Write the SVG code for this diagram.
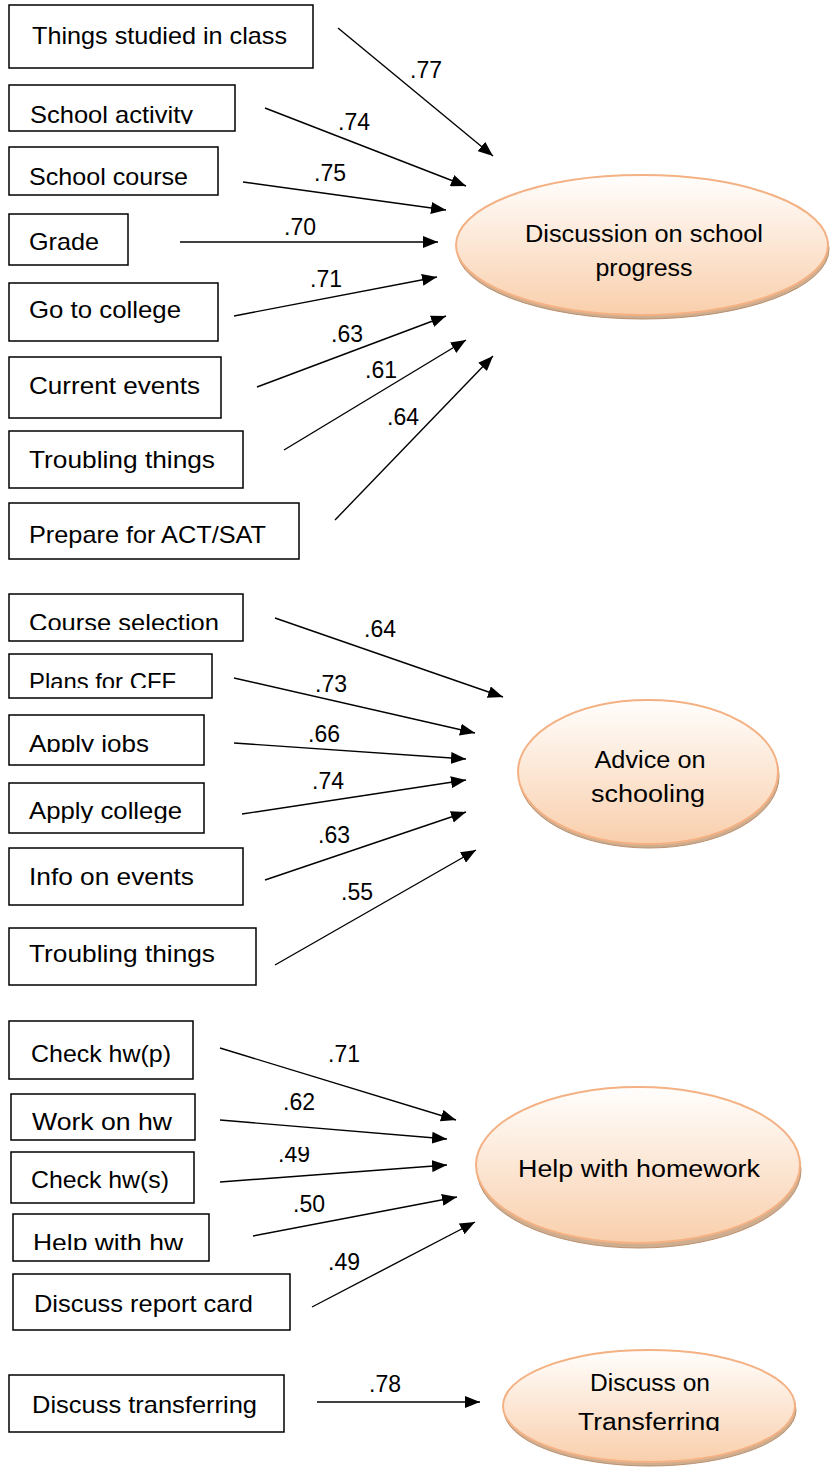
<svg xmlns="http://www.w3.org/2000/svg" width="830" height="1470" viewBox="0 0 830 1470">
<style>
.box{fill:#fff;stroke:#000;stroke-width:1.5}
.t{font-family:"Liberation Sans",Arial,sans-serif;font-size:24px;fill:#000}
.lbl{font-family:"Liberation Sans",Arial,sans-serif;font-size:23px;fill:#000;text-anchor:middle}
.et{font-family:"Liberation Sans",Arial,sans-serif;font-size:23px;fill:#000;text-anchor:middle}
.conn line{stroke:#000;stroke-width:1.4;marker-end:url(#arr)}
.ell{fill:url(#peach);stroke:#f4b183;stroke-width:2}
.shd{fill:#cfae90;stroke:#b98f6d;stroke-width:1}
</style>
<defs>
<marker id="arr" markerUnits="userSpaceOnUse" markerWidth="16" markerHeight="12" refX="15" refY="6" orient="auto">
<path d="M0,0 L15,6 L0,12 z" fill="#000"/>
</marker>
<linearGradient id="peach" x1="0" y1="0" x2="0" y2="1">
<stop offset="0" stop-color="#fffefd"/>
<stop offset="1" stop-color="#f9cfac"/>
</linearGradient>
<clipPath id="c1"><rect x="0" y="80" width="300" height="44"/></clipPath>
<clipPath id="c2"><rect x="0" y="590" width="300" height="40"/></clipPath>
<clipPath id="c3"><rect x="0" y="650" width="300" height="38"/></clipPath>
<clipPath id="c4"><rect x="0" y="710" width="300" height="42"/></clipPath>
<clipPath id="c5"><rect x="0" y="780" width="300" height="43"/></clipPath>
<clipPath id="c6"><rect x="0" y="1090" width="300" height="41"/></clipPath>
<clipPath id="c7"><rect x="0" y="1210" width="300" height="40"/></clipPath>
<clipPath id="c8"><rect x="500" y="1400" width="300" height="31"/></clipPath>
<clipPath id="c9"><rect x="250" y="1147" width="100" height="30"/></clipPath>
</defs>

<g id="connectors" class="conn">
<line x1="338" y1="28" x2="493" y2="156"/>
<line x1="265" y1="108" x2="466" y2="186"/>
<line x1="243" y1="182" x2="446" y2="210"/>
<line x1="180" y1="242" x2="438" y2="242"/>
<line x1="234" y1="316" x2="437" y2="277"/>
<line x1="257" y1="387" x2="446" y2="316"/>
<line x1="284" y1="450" x2="466" y2="340"/>
<line x1="335" y1="520" x2="493" y2="356"/>
<line x1="275" y1="618" x2="503" y2="697"/>
<line x1="234" y1="678" x2="475" y2="733"/>
<line x1="234" y1="743" x2="466" y2="759"/>
<line x1="242" y1="814" x2="466" y2="780"/>
<line x1="265" y1="880" x2="466" y2="812"/>
<line x1="275" y1="965" x2="476" y2="850"/>
<line x1="220" y1="1048" x2="456" y2="1120"/>
<line x1="220" y1="1120" x2="447" y2="1139"/>
<line x1="220" y1="1182" x2="447" y2="1165"/>
<line x1="253" y1="1236" x2="457" y2="1197"/>
<line x1="312" y1="1307" x2="475" y2="1222"/>
<line x1="317" y1="1402" x2="480" y2="1402"/>
</g>

<g id="labels">
<text class="lbl" x="426" y="78">.77</text>
<text class="lbl" x="354" y="130">.74</text>
<text class="lbl" x="330" y="181">.75</text>
<text class="lbl" x="300" y="235">.70</text>
<text class="lbl" x="326" y="287">.71</text>
<text class="lbl" x="347" y="342">.63</text>
<text class="lbl" x="381" y="378">.61</text>
<text class="lbl" x="403" y="425">.64</text>
<text class="lbl" x="380" y="637">.64</text>
<text class="lbl" x="331" y="692">.73</text>
<text class="lbl" x="324" y="742">.66</text>
<text class="lbl" x="328" y="789">.74</text>
<text class="lbl" x="334" y="843">.63</text>
<text class="lbl" x="357" y="900">.55</text>
<text class="lbl" x="344" y="1062">.71</text>
<text class="lbl" x="299" y="1110">.62</text>
<text class="lbl" x="294" y="1162" clip-path="url(#c9)">.49</text>
<text class="lbl" x="309" y="1212">.50</text>
<text class="lbl" x="344" y="1270">.49</text>
<text class="lbl" x="385" y="1392">.78</text>
</g>

<g id="n1"><rect class="box" x="9" y="5" width="304" height="63"/><text class="t" x="32" y="44" textLength="255" lengthAdjust="spacingAndGlyphs">Things studied in class</text></g>
<g id="n2"><rect class="box" x="9" y="85" width="226" height="46"/><text class="t" x="30" y="123" textLength="163" lengthAdjust="spacingAndGlyphs" clip-path="url(#c1)">School activity</text></g>
<g id="n3"><rect class="box" x="9" y="147" width="209" height="48"/><text class="t" x="29" y="185" textLength="159" lengthAdjust="spacingAndGlyphs">School course</text></g>
<g id="n4"><rect class="box" x="9" y="214" width="119" height="51"/><text class="t" x="29" y="250" textLength="70" lengthAdjust="spacingAndGlyphs">Grade</text></g>
<g id="n5"><rect class="box" x="9" y="283" width="209" height="58"/><text class="t" x="29" y="318" textLength="152" lengthAdjust="spacingAndGlyphs">Go to college</text></g>
<g id="n6"><rect class="box" x="9" y="357" width="212" height="61"/><text class="t" x="29" y="394" textLength="171" lengthAdjust="spacingAndGlyphs">Current events</text></g>
<g id="n7"><rect class="box" x="9" y="431" width="234" height="57"/><text class="t" x="29" y="468" textLength="186" lengthAdjust="spacingAndGlyphs">Troubling things</text></g>
<g id="n8"><rect class="box" x="9" y="503" width="290" height="56"/><text class="t" x="29" y="543" textLength="237" lengthAdjust="spacingAndGlyphs">Prepare for ACT/SAT</text></g>

<g id="n9"><rect class="box" x="9" y="594" width="234" height="47"/><text class="t" x="29" y="631" textLength="190" lengthAdjust="spacingAndGlyphs" clip-path="url(#c2)">Course selection</text></g>
<g id="n10"><rect class="box" x="9" y="654" width="203" height="44"/><text class="t" x="29" y="690" textLength="147" lengthAdjust="spacingAndGlyphs" clip-path="url(#c3)">Plans for CFF</text></g>
<g id="n11"><rect class="box" x="9" y="715" width="195" height="50"/><text class="t" x="29" y="752" textLength="120" lengthAdjust="spacingAndGlyphs" clip-path="url(#c4)">Apply jobs</text></g>
<g id="n12"><rect class="box" x="9" y="783" width="195" height="50"/><text class="t" x="29" y="819" textLength="153" lengthAdjust="spacingAndGlyphs" clip-path="url(#c5)">Apply college</text></g>
<g id="n13"><rect class="box" x="9" y="848" width="234" height="57"/><text class="t" x="29" y="885" textLength="165" lengthAdjust="spacingAndGlyphs">Info on events</text></g>
<g id="n14"><rect class="box" x="9" y="928" width="247" height="57"/><text class="t" x="29" y="962" textLength="186" lengthAdjust="spacingAndGlyphs">Troubling things</text></g>

<g id="n15"><rect class="box" x="9" y="1021" width="184" height="58"/><text class="t" x="31" y="1062" textLength="140" lengthAdjust="spacingAndGlyphs">Check hw(p)</text></g>
<g id="n16"><rect class="box" x="11" y="1094" width="184" height="46"/><text class="t" x="32" y="1130" textLength="140" lengthAdjust="spacingAndGlyphs" clip-path="url(#c6)">Work on hw</text></g>
<g id="n17"><rect class="box" x="11" y="1152" width="183" height="51"/><text class="t" x="31" y="1188" textLength="138" lengthAdjust="spacingAndGlyphs">Check hw(s)</text></g>
<g id="n18"><rect class="box" x="13" y="1214" width="196" height="47"/><text class="t" x="33" y="1251" textLength="150" lengthAdjust="spacingAndGlyphs" clip-path="url(#c7)">Help with hw</text></g>
<g id="n19"><rect class="box" x="13" y="1274" width="277" height="56"/><text class="t" x="34" y="1312" textLength="219" lengthAdjust="spacingAndGlyphs">Discuss report card</text></g>
<g id="n20"><rect class="box" x="9" y="1375" width="275" height="57"/><text class="t" x="32" y="1413" textLength="225" lengthAdjust="spacingAndGlyphs">Discuss transferring</text></g>

<g id="f1"><ellipse class="shd" cx="643" cy="249" rx="186" ry="70"/><ellipse class="ell" cx="642" cy="245" rx="186" ry="70"/>
<text class="et" x="644" y="242" textLength="238" lengthAdjust="spacingAndGlyphs">Discussion on school</text><text class="et" x="644" y="276" textLength="97" lengthAdjust="spacingAndGlyphs">progress</text></g>
<g id="f2"><ellipse class="shd" cx="649" cy="776" rx="130" ry="72"/><ellipse class="ell" cx="648" cy="772" rx="130" ry="72"/>
<text class="et" x="650" y="768" textLength="111" lengthAdjust="spacingAndGlyphs">Advice on</text><text class="et" x="648" y="802" textLength="114" lengthAdjust="spacingAndGlyphs">schooling</text></g>
<g id="f3"><ellipse class="shd" cx="639" cy="1170" rx="162" ry="78"/><ellipse class="ell" cx="638" cy="1165" rx="162" ry="78"/>
<text class="et" x="639" y="1177" textLength="242" lengthAdjust="spacingAndGlyphs">Help with homework</text></g>
<g id="f4"><ellipse class="shd" cx="650" cy="1410" rx="146" ry="56"/><ellipse class="ell" cx="649" cy="1406" rx="146" ry="56"/>
<text class="et" x="650" y="1391" textLength="120" lengthAdjust="spacingAndGlyphs">Discuss on</text><text class="et" x="649" y="1430" textLength="142" lengthAdjust="spacingAndGlyphs" clip-path="url(#c8)">Transferring</text></g>
</svg>
